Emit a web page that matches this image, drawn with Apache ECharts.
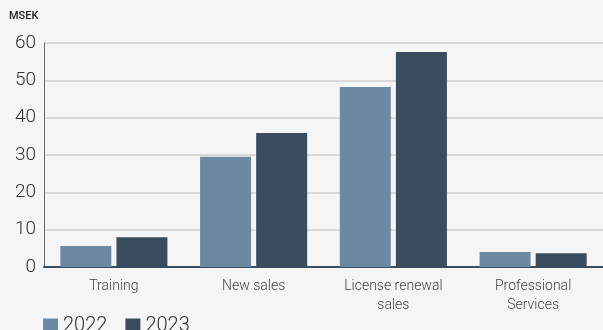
<!DOCTYPE html>
<html><head><meta charset="utf-8">
<script src="https://cdn.jsdelivr.net/npm/echarts@6/dist/echarts.min.js"></script>
<style>html,body{margin:0;padding:0;background:#f5f5f5}#c{width:603px;height:330px}</style>
</head><body><div id="c"></div>
<script>
const categories = ['Training', 'New sales', 'License renewal\nsales', 'Professional\nServices'];
const values2022 = [5.6, 29.5, 48.2, 4.0];
const values2023 = [8.0, 35.9, 57.6, 3.7];
const yTicks = [0, 10, 20, 30, 40, 50, 60];
const chart = echarts.init(document.getElementById('c'));
chart.setOption({
  backgroundColor: '#f5f5f5',
  animation: false,
  textStyle: { fontFamily: 'Roboto' },
  grid: { left: 44, right: 0, top: 43, bottom: 63, containLabel: false },
  legend: {
    left: 38, top: 311, itemWidth: 15, itemHeight: 15, itemGap: 18, itemTextGap: 7,
    icon: 'rect',
    textStyle: { fontSize: 20, color: '#333', fontWeight: 300, fontFamily: 'Roboto', padding: [6, 0, 0, 0] },
    data: ['2022', '2023']
  },
  graphic: [{ type: 'text', left: 9, top: 11, style: { text: 'MSEK', fontSize: 11, fill: '#222', fontFamily: 'Roboto', fontWeight: 500 } }],
  xAxis: {
    type: 'category', data: categories,
    axisLine: { lineStyle: { color: '#3a4d5f', width: 2 } },
    axisTick: { show: false },
    axisLabel: { fontSize: 14, color: '#444', margin: 10, lineHeight: 19, fontWeight: 300 }
  },
  yAxis: {
    type: 'value', min: 0, max: 60, interval: 10,
    axisLine: { show: true, lineStyle: { color: '#666', width: 1 } },
    axisTick: { show: false },
    axisLabel: { fontSize: 19, color: '#333', margin: 8, fontWeight: 300,
      formatter: v => yTicks.includes(v) ? String(v) : '' },
    splitLine: { lineStyle: { color: '#cfcfcf', width: 1.5 } }
  },
  series: [
    { name: '2022', type: 'bar', data: values2022, barWidth: 51, barGap: '10%', itemStyle: { color: '#6b8aa1' } },
    { name: '2023', type: 'bar', data: values2023, barWidth: 51, itemStyle: { color: '#3a4d5f' } }
  ]
});
</script></body></html>
